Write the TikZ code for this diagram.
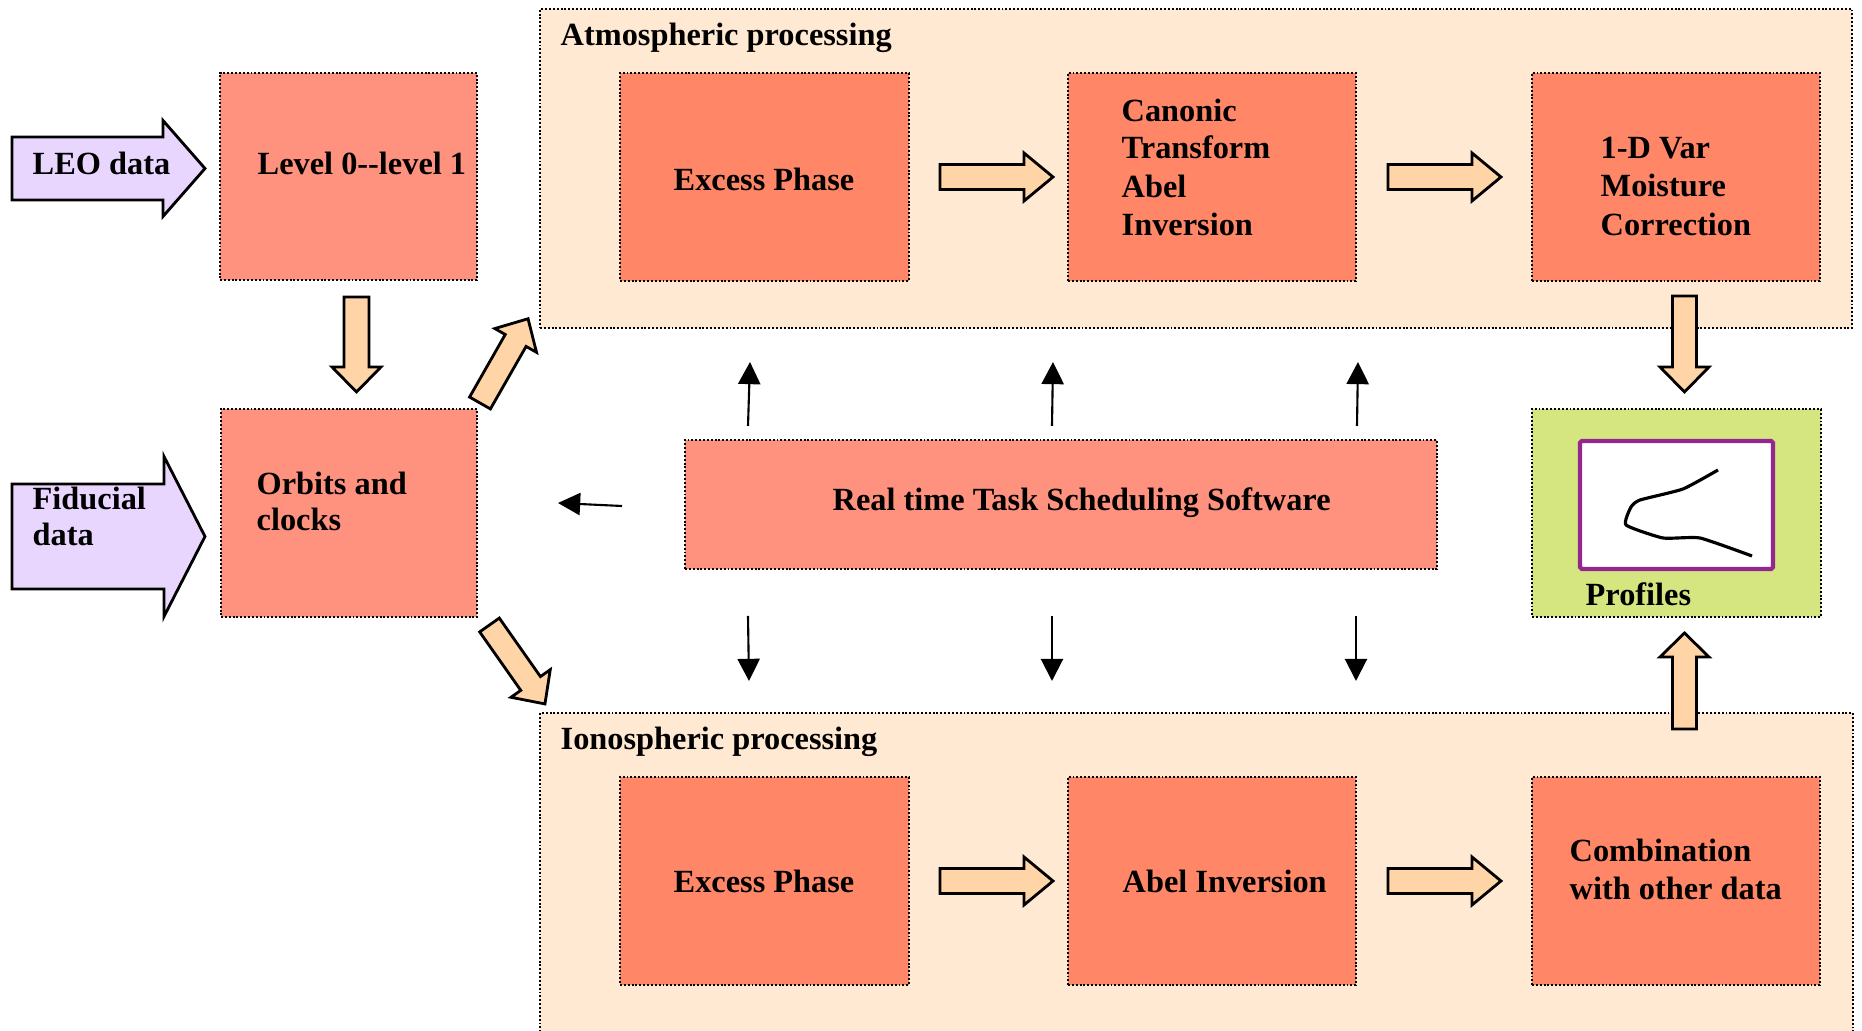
\documentclass[tikz,border=0pt]{standalone}
\usepackage{fontspec}
\newfontfamily\tf{Liberation Serif}
\usetikzlibrary{arrows.meta,fit}
\definecolor{salmonA}{RGB}{255,146,126}
\definecolor{salmonB}{RGB}{255,135,104}
\definecolor{peachbg}{RGB}{255,233,210}
\definecolor{peachar}{RGB}{255,213,168}
\definecolor{lilac}{RGB}{233,214,255}
\definecolor{limeg}{RGB}{213,230,128}
\definecolor{plum}{RGB}{148,38,143}
\tikzset{
  barrowst/.style={draw=black, line width=0.8pt, fill=peachar, line join=miter},
  pics/barrow/.style n args={4}{code={
    \draw[barrowst] (0,-#2) -- ({#1-#4},-#2) -- ({#1-#4},-#3) -- (#1,0)
      -- ({#1-#4},#3) -- ({#1-#4},#2) -- (0,#2) -- cycle;
  }},
  lilacfill/.style={barrowst/.append style={fill=lilac}},
}
\begin{document}
\begin{tikzpicture}[x=0.01cm,y=-0.01cm,
  dotbox/.style={draw=black, line width=0.8pt, dash pattern=on 0.55pt off 0.55pt, inner sep=0pt},
  boxA/.style={dotbox, fill=salmonA},
  boxB/.style={dotbox, fill=salmonB},
  cont/.style={dotbox, fill=peachbg},
  txt/.style={anchor=base west, inner sep=0pt, font=\tf\bfseries\fontsize{9.2}{10.8}\selectfont},
  thinarr/.style={line width=0.6pt, -{Triangle[width=6.3pt,length=6.3pt]}}
]
\useasboundingbox (0,0) rectangle (1862,1031);
\clip (0,0) rectangle (1862,1031);
% containers
\node[cont, fit={(540,9) (1852,328)}] (atm) {};
\node[cont, fit={(540,713) (1853,1050)}] (iono) {};
% boxes
\node[boxA, fit={(220,73) (477,280)}] (lvl) {};
\node[boxA, fit={(221,409) (477,617)}] (orb) {};
\node[boxA, fit={(685,440) (1437,569)}] (rts) {};
\node[boxB, fit={(620,73) (909,281)}] (aex) {};
\node[boxB, fit={(1068,73) (1356,281)}] (acan) {};
\node[boxB, fit={(1532,73) (1820,281)}] (avar) {};
\node[boxB, fit={(620,777) (909,985)}] (iex) {};
\node[boxB, fit={(1068,777) (1356,985)}] (iabel) {};
\node[boxB, fit={(1532,777) (1820,985)}] (icomb) {};
\node[dotbox, fill=limeg, fit={(1532,409) (1821,617)}] (prof) {};
\node[draw=plum, line width=1.2pt, fill=white, rounded corners=0.5pt, inner sep=0pt,
      fit={(1580,441) (1773,569)}] (plotbox) {};
\draw[line width=0.9pt, line join=round] plot[smooth, tension=0.3] coordinates
  {(1718,470) (1683,489) (1640,500) (1631,507) (1626,525) (1663,538) (1700,538) (1752,556)};
% block arrows
\pic[lilacfill] (leo) at (12,168.5) {barrow={193}{31.5}{48}{42}};
\pic[lilacfill] (fid) at (12,536.5) {barrow={193}{52.5}{80}{41}};
\pic[rotate=-90] (a1) at (356.5,297) {barrow={95}{12.5}{24.5}{25}};
\pic[rotate=60.3] (a2) at (480,403) {barrow={97}{12}{24}{25}};
\pic[rotate=-54.9] (a3) at (489.5,625) {barrow={96.5}{12}{24}{25}};
\pic (a4) at (940,177) {barrow={113}{12.5}{24}{29}};
\pic (a5) at (1388,177) {barrow={113}{12.5}{24}{29}};
\pic (a6) at (940,881) {barrow={113}{12.5}{24}{29}};
\pic (a7) at (1388,881) {barrow={113}{12.5}{24}{29}};
\pic[rotate=-90] (a8) at (1684.5,296) {barrow={96}{12}{24.5}{25}};
\pic[rotate=90] (a9) at (1684.5,729) {barrow={96}{12}{24.5}{24}};
% thin arrows
\coordinate (u1a) at (748,426); \coordinate (u1b) at (750,362);
\coordinate (u2a) at (1052,426); \coordinate (u2b) at (1053,362);
\coordinate (u3a) at (1357,426); \coordinate (u3b) at (1358,362);
\coordinate (d1a) at (748,616); \coordinate (d1b) at (749,681);
\coordinate (d2a) at (1052,616); \coordinate (d2b) at (1052,681);
\coordinate (d3a) at (1356,616); \coordinate (d3b) at (1356,681);
\coordinate (l1a) at (622,506); \coordinate (l1b) at (558,503);
\foreach \s/\e in {u1a/u1b,u2a/u2b,u3a/u3b,d1a/d1b,d2a/d2b,d3a/d3b,l1a/l1b}
  \draw[thinarr] (\s) -- (\e);
% texts
\node[txt] (tleo) at (32,175) {LEO data};
\node[txt] (tlvl) at (257,175) {Level 0-{}-level 1};
\node[txt] (tfid1) at (32,510) {Fiducial};
\node[txt] (tfid2) at (32,546) {data};
\node[txt] (torb1) at (256,495) {Orbits and};
\node[txt] (torb2) at (256,531) {clocks};
\node[txt] (tatm) at (560,46) {Atmospheric processing};
\node[txt] (taex) at (673,191) {Excess Phase};
\node[txt] (tcan1) at (1121,122) {Canonic};
\node[txt] (tcan2) at (1121,159) {Transform};
\node[txt] (tcan3) at (1121,198) {Abel};
\node[txt] (tcan4) at (1121,236) {Inversion};
\node[txt] (tvar1) at (1600,159) {1-D Var};
\node[txt] (tvar2) at (1600,197) {Moisture};
\node[txt] (tvar3) at (1600,236) {Correction};
\node[txt] (trts) at (832,511) {Real time Task Scheduling Software};
\node[txt] (tprof) at (1585,606) {Profiles};
\node[txt] (tiono) at (560,750) {Ionospheric processing};
\node[txt] (tiex) at (673,893) {Excess Phase};
\node[txt] (tiabel) at (1122,893) {Abel Inversion};
\node[txt] (tcomb1) at (1569,862) {Combination};
\node[txt] (tcomb2) at (1569,900) {with other data};
\end{tikzpicture}
\end{document}
